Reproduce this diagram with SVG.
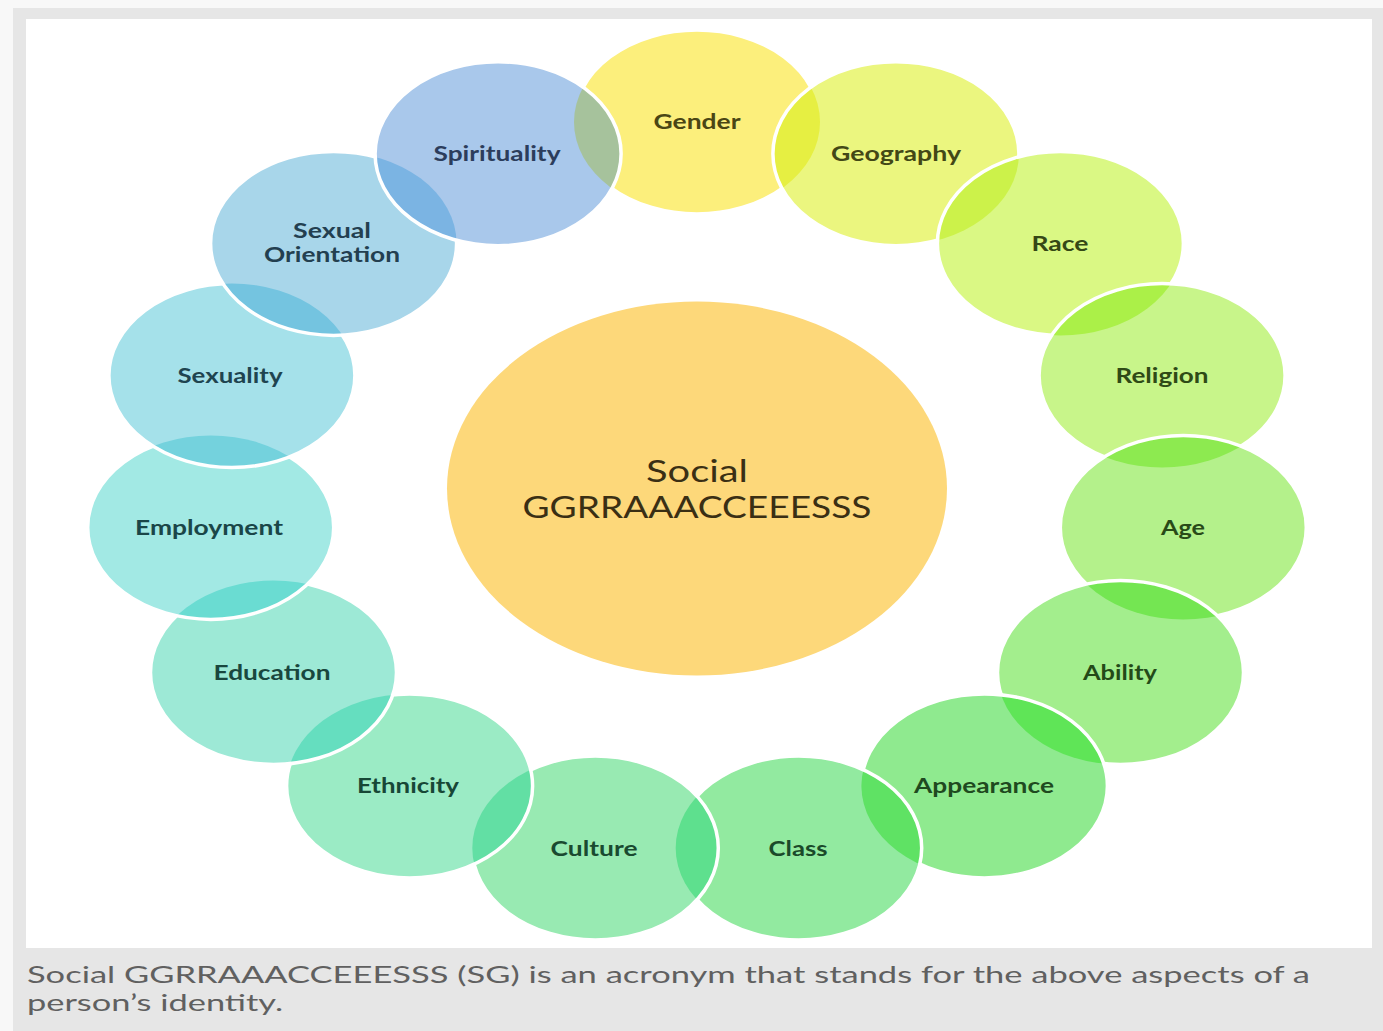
<svg xmlns="http://www.w3.org/2000/svg" width="1383" height="1031" viewBox="0 0 1383 1031">
  <style>
    .ring { fill: none; stroke: #ffffff; stroke-width: 3.5; }
    .lbl { font-family: Lato, "Liberation Sans", sans-serif; font-weight: 700; font-size: 20px; text-anchor: middle; }
    .hub { font-family: Lato, "Liberation Sans", sans-serif; font-weight: 400; font-size: 30px; text-anchor: middle; fill: #3a2f14; }
    .cap { font-family: Lato, "Liberation Sans", sans-serif; font-weight: 400; font-size: 24px; fill: #606060; }
  </style>
  <defs>
    <!-- one clip per outer bubble, used to cut the overlap lenses -->
    <clipPath id="k0"><ellipse cx="697" cy="122" rx="123" ry="92"/></clipPath>
    <clipPath id="k1"><ellipse cx="895.9" cy="153.7" rx="123" ry="92"/></clipPath>
    <clipPath id="k2"><ellipse cx="1060.4" cy="243.4" rx="123" ry="92"/></clipPath>
    <clipPath id="k3"><ellipse cx="1162.1" cy="375.6" rx="123" ry="92"/></clipPath>
    <clipPath id="k4"><ellipse cx="1183.3" cy="527.4" rx="123" ry="92"/></clipPath>
    <clipPath id="k5"><ellipse cx="1120.5" cy="672.5" rx="123" ry="92"/></clipPath>
    <clipPath id="k6"><ellipse cx="984.4" cy="785.9" rx="123" ry="92"/></clipPath>
    <clipPath id="k7"><ellipse cx="798.7" cy="848" rx="123" ry="92"/></clipPath>
    <clipPath id="k8"><ellipse cx="595.3" cy="848" rx="123" ry="92"/></clipPath>
    <clipPath id="k9"><ellipse cx="409.6" cy="785.9" rx="123" ry="92"/></clipPath>
    <clipPath id="k10"><ellipse cx="273.5" cy="672.5" rx="123" ry="92"/></clipPath>
    <clipPath id="k11"><ellipse cx="210.7" cy="527.4" rx="123" ry="92"/></clipPath>
    <clipPath id="k12"><ellipse cx="231.9" cy="375.6" rx="123" ry="92"/></clipPath>
    <clipPath id="k13"><ellipse cx="333.6" cy="243.4" rx="123" ry="92"/></clipPath>
  </defs>

  <!-- page frame and caption strip -->
  <rect x="0" y="0" width="1383" height="1031" fill="#f8f8f8"/>
  <rect x="13" y="8" width="1370" height="1023" fill="#e6e6e6"/>
  <rect x="26" y="19" width="1346" height="929" fill="#ffffff"/>

  <!-- hub -->
  <g id="hub">
    <ellipse cx="697" cy="488.5" rx="250" ry="187" fill="#fdd87a"/>
    <text class="hub" x="697" y="482" textLength="102" lengthAdjust="spacingAndGlyphs">Social</text>
    <text class="hub" x="697" y="518" textLength="349" lengthAdjust="spacingAndGlyphs">GGRRAAACCEEESSS</text>
  </g>

  <!-- outer bubbles, drawn clockwise from the top; each sits over the previous one -->
  <g id="gender">
    <ellipse cx="697" cy="122" rx="123" ry="92" fill="#fcef7c"/>
    <ellipse class="ring" cx="697" cy="122" rx="123" ry="92"/>
    <text class="lbl" x="697" y="129" fill="#4a4614" textLength="87" lengthAdjust="spacingAndGlyphs">Gender</text>
  </g>
  <g id="geography">
    <ellipse cx="895.9" cy="153.7" rx="123" ry="92" fill="#ebf67f"/>
    <ellipse cx="895.9" cy="153.7" rx="123" ry="92" fill="#e6ef42" clip-path="url(#k0)"/>
    <ellipse class="ring" cx="895.9" cy="153.7" rx="123" ry="92"/>
    <text class="lbl" x="896" y="161" fill="#434816" textLength="130" lengthAdjust="spacingAndGlyphs">Geography</text>
  </g>
  <g id="race">
    <ellipse cx="1060.4" cy="243.4" rx="123" ry="92" fill="#daf884"/>
    <ellipse cx="1060.4" cy="243.4" rx="123" ry="92" fill="#ccf24a" clip-path="url(#k1)"/>
    <ellipse class="ring" cx="1060.4" cy="243.4" rx="123" ry="92"/>
    <text class="lbl" x="1060" y="251" fill="#364816" textLength="57" lengthAdjust="spacingAndGlyphs">Race</text>
  </g>
  <g id="religion">
    <ellipse cx="1162.1" cy="375.6" rx="123" ry="92" fill="#c8f58a"/>
    <ellipse cx="1162.1" cy="375.6" rx="123" ry="92" fill="#abf048" clip-path="url(#k2)"/>
    <ellipse class="ring" cx="1162.1" cy="375.6" rx="123" ry="92"/>
    <text class="lbl" x="1162" y="383" fill="#2f4a16" textLength="93" lengthAdjust="spacingAndGlyphs">Religion</text>
  </g>
  <g id="age">
    <ellipse cx="1183.3" cy="527.4" rx="123" ry="92" fill="#b4f18b"/>
    <ellipse cx="1183.3" cy="527.4" rx="123" ry="92" fill="#8dea50" clip-path="url(#k3)"/>
    <ellipse class="ring" cx="1183.3" cy="527.4" rx="123" ry="92"/>
    <text class="lbl" x="1183" y="535" fill="#294a18" textLength="44" lengthAdjust="spacingAndGlyphs">Age</text>
  </g>
  <g id="ability">
    <ellipse cx="1120.5" cy="672.5" rx="123" ry="92" fill="#a3ee8d"/>
    <ellipse cx="1120.5" cy="672.5" rx="123" ry="92" fill="#74e652" clip-path="url(#k4)"/>
    <ellipse class="ring" cx="1120.5" cy="672.5" rx="123" ry="92"/>
    <text class="lbl" x="1120" y="680" fill="#244a18" textLength="74" lengthAdjust="spacingAndGlyphs">Ability</text>
  </g>
  <g id="appearance">
    <ellipse cx="984.4" cy="785.9" rx="123" ry="92" fill="#8fea8f"/>
    <ellipse cx="984.4" cy="785.9" rx="123" ry="92" fill="#5fe557" clip-path="url(#k5)"/>
    <ellipse class="ring" cx="984.4" cy="785.9" rx="123" ry="92"/>
    <text class="lbl" x="984" y="793" fill="#1f4a20" textLength="140" lengthAdjust="spacingAndGlyphs">Appearance</text>
  </g>
  <g id="class">
    <ellipse cx="798.7" cy="848" rx="123" ry="92" fill="#92eaa0"/>
    <ellipse cx="798.7" cy="848" rx="123" ry="92" fill="#5fe264" clip-path="url(#k6)"/>
    <ellipse class="ring" cx="798.7" cy="848" rx="123" ry="92"/>
    <text class="lbl" x="798" y="856" fill="#1b4a2a" textLength="59" lengthAdjust="spacingAndGlyphs">Class</text>
  </g>
  <g id="culture">
    <ellipse cx="595.3" cy="848" rx="123" ry="92" fill="#98eab2"/>
    <ellipse cx="595.3" cy="848" rx="123" ry="92" fill="#5ee08e" clip-path="url(#k7)"/>
    <ellipse class="ring" cx="595.3" cy="848" rx="123" ry="92"/>
    <text class="lbl" x="594" y="856" fill="#1a4a30" textLength="87" lengthAdjust="spacingAndGlyphs">Culture</text>
  </g>
  <g id="ethnicity">
    <ellipse cx="409.6" cy="785.9" rx="123" ry="92" fill="#9bebc5"/>
    <ellipse cx="409.6" cy="785.9" rx="123" ry="92" fill="#62dfa4" clip-path="url(#k8)"/>
    <ellipse class="ring" cx="409.6" cy="785.9" rx="123" ry="92"/>
    <text class="lbl" x="408" y="793" fill="#174736" textLength="102" lengthAdjust="spacingAndGlyphs">Ethnicity</text>
  </g>
  <g id="education">
    <ellipse cx="273.5" cy="672.5" rx="123" ry="92" fill="#9de9d6"/>
    <ellipse cx="273.5" cy="672.5" rx="123" ry="92" fill="#65debf" clip-path="url(#k9)"/>
    <ellipse class="ring" cx="273.5" cy="672.5" rx="123" ry="92"/>
    <text class="lbl" x="272" y="680" fill="#19473e" textLength="117" lengthAdjust="spacingAndGlyphs">Education</text>
  </g>
  <g id="employment">
    <ellipse cx="210.7" cy="527.4" rx="123" ry="92" fill="#a2e9e4"/>
    <ellipse cx="210.7" cy="527.4" rx="123" ry="92" fill="#6adcd2" clip-path="url(#k10)"/>
    <ellipse class="ring" cx="210.7" cy="527.4" rx="123" ry="92"/>
    <text class="lbl" x="209" y="535" fill="#1a4648" textLength="148" lengthAdjust="spacingAndGlyphs">Employment</text>
  </g>
  <g id="sexuality">
    <ellipse cx="231.9" cy="375.6" rx="123" ry="92" fill="#a5e1ea"/>
    <ellipse cx="231.9" cy="375.6" rx="123" ry="92" fill="#74d2dd" clip-path="url(#k11)"/>
    <ellipse class="ring" cx="231.9" cy="375.6" rx="123" ry="92"/>
    <text class="lbl" x="230" y="383" fill="#1f4450" textLength="105" lengthAdjust="spacingAndGlyphs">Sexuality</text>
  </g>
  <g id="sexual-orientation">
    <ellipse cx="333.6" cy="243.4" rx="123" ry="92" fill="#a8d6ea"/>
    <ellipse cx="333.6" cy="243.4" rx="123" ry="92" fill="#74c4e0" clip-path="url(#k12)"/>
    <ellipse class="ring" cx="333.6" cy="243.4" rx="123" ry="92"/>
    <text class="lbl" x="332" y="238" fill="#233f50" textLength="78" lengthAdjust="spacingAndGlyphs">Sexual</text>
    <text class="lbl" x="332" y="262" fill="#233f50" textLength="136" lengthAdjust="spacingAndGlyphs">Orientation</text>
  </g>
  <g id="spirituality">
    <ellipse cx="498.1" cy="153.7" rx="123" ry="92" fill="#a9c8eb"/>
    <ellipse cx="498.1" cy="153.7" rx="123" ry="92" fill="#7bb4e3" clip-path="url(#k13)"/>
    <ellipse cx="498.1" cy="153.7" rx="123" ry="92" fill="#a6c29c" clip-path="url(#k0)"/>
    <ellipse class="ring" cx="498.1" cy="153.7" rx="123" ry="92"/>
    <text class="lbl" x="497" y="161" fill="#2c3d5c" textLength="127" lengthAdjust="spacingAndGlyphs">Spirituality</text>
  </g>

  <!-- caption -->
  <g id="caption">
    <text class="cap" x="27" y="983" textLength="1283" lengthAdjust="spacingAndGlyphs">Social GGRRAAACCEEESSS (SG) is an acronym that stands for the above aspects of a</text>
    <text class="cap" x="27" y="1011" textLength="256" lengthAdjust="spacingAndGlyphs">person’s identity.</text>
  </g>
</svg>
